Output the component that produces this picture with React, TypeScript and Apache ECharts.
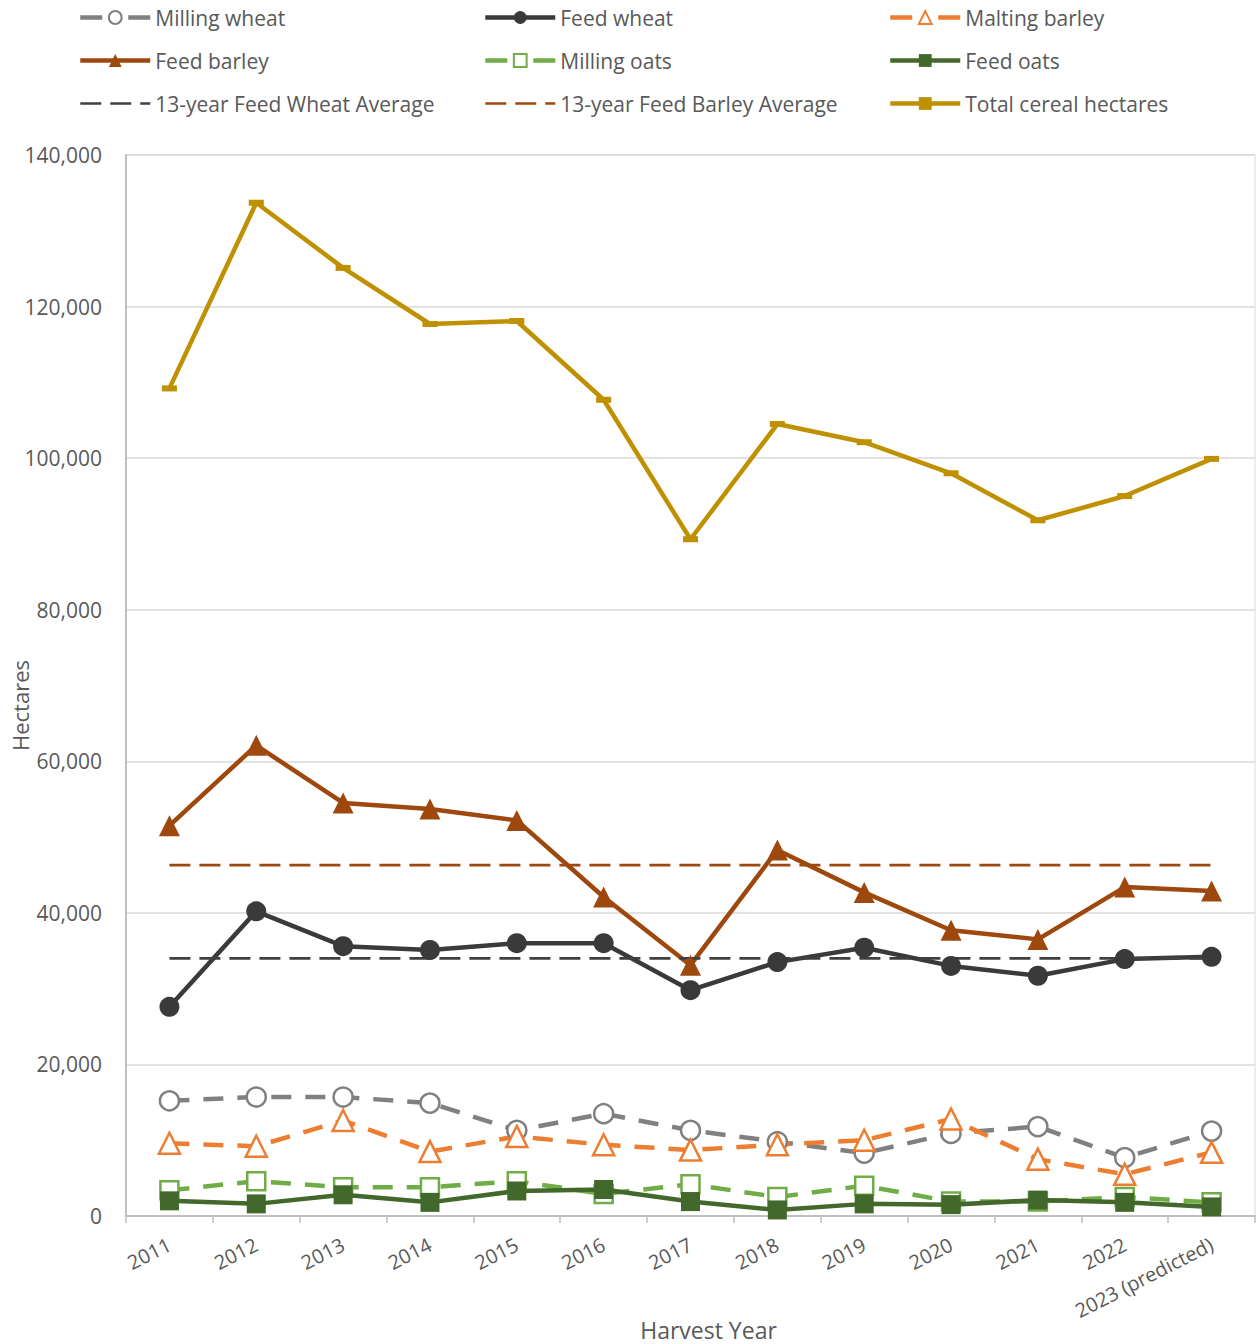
import React, { useEffect, useRef } from "react";
import * as echarts from "echarts";

const categories = ["2011", "2012", "2013", "2014", "2015", "2016", "2017", "2018", "2019", "2020", "2021", "2022", "2023 (predicted)"];
const millingWheat = [15200, 15700, 15700, 14900, 11300, 13500, 11300, 9800, 8300, 10900, 11800, 7700, 11200];
const feedWheat = [27600, 40200, 35600, 35100, 36000, 36000, 29800, 33500, 35400, 33000, 31700, 33900, 34200];
const maltingBarley = [9600, 9200, 12600, 8500, 10500, 9400, 8700, 9400, 10000, 12800, 7500, 5500, 8400];
const feedBarley = [51500, 62100, 54500, 53700, 52200, 42100, 33100, 48300, 42700, 37700, 36500, 43400, 42900];
const millingOats = [3400, 4600, 3800, 3800, 4600, 2900, 4200, 2500, 4000, 1900, 1900, 2500, 1800];
const feedOats = [2000, 1600, 2800, 1800, 3300, 3500, 1900, 800, 1600, 1500, 2100, 1800, 1200];
const feedWheatAverage = 34000;
const feedBarleyAverage = 46300;
const totalCereal = [109200, 133700, 125100, 117700, 118100, 107700, 89300, 104500, 102100, 98000, 91800, 95000, 99900];
const yTicks = { min: 0, max: 140000, interval: 20000 };

const FONT = "'Open Sans', 'Noto Sans', sans-serif";
const TEXT = "#595959";
const DASH = [20, 14];
const AVG_DASH = [21, 9];

export default function App() {
  const ref = useRef<HTMLDivElement>(null);
  useEffect(() => {
    if (!ref.current) return;
    const chart = echarts.init(ref.current, undefined, { renderer: "svg" });
    const line = (name: string, data: number[], color: string, opts: any) => ({
      name,
      type: "line",
      data,
      symbol: opts.symbol,
      symbolSize: opts.symbolSize,
      showSymbol: opts.symbol !== "none",
      lineStyle: { color, width: opts.width ?? 4.5, type: opts.dashed ? (opts.dash ?? DASH) : "solid" },
      itemStyle: opts.hollow
        ? { color: "#ffffff", borderColor: color, borderWidth: 2.5 }
        : { color, borderColor: color, borderWidth: 0 },
      emphasis: { disabled: true },
      z: opts.z ?? 2,
    });
    const legendBase = {
      orient: "vertical",
      top: 7,
      padding: 0,
      itemGap: 22,
      itemWidth: 70,
      itemHeight: 16,
      textStyle: { fontFamily: FONT, fontSize: 21, color: TEXT },
      selectedMode: false,
    };
    const item = (name: string, width = 4.5, hideSymbol = false, dash?: number[]) => ({
      name,
      lineStyle: dash ? { width, type: dash } : { width },
      ...(hideSymbol ? { itemStyle: { opacity: 0 } } : {}),
    });
    const LEGEND_DASH = [22, 26];
    chart.setOption({
      animation: false,
      backgroundColor: "#ffffff",
      textStyle: { fontFamily: FONT },
      legend: [
        { ...legendBase, left: 78, data: [item("Milling wheat", 4.5, false, LEGEND_DASH), item("Feed barley"), item("13-year Feed Wheat Average", 2.7, true)] },
        { ...legendBase, left: 483, data: [item("Feed wheat"), item("Milling oats", 4.5, false, LEGEND_DASH), item("13-year Feed Barley Average", 2.7, true)] },
        { ...legendBase, left: 888, data: [item("Malting barley", 4.5, false, LEGEND_DASH), item("Feed oats"), item("Total cereal hectares")] },
      ],
      grid: { left: 126, right: 3, top: 155, bottom: 128, outerBoundsMode: "none", containLabel: false, show: true, borderColor: "#d9d9d9", borderWidth: 1 },
      xAxis: {
        type: "category",
        data: categories,
        boundaryGap: true,
        name: "Harvest Year",
        nameLocation: "middle",
        nameGap: 102,
        nameMoveOverlap: false,
        nameTextStyle: { fontFamily: FONT, fontSize: 23, color: TEXT, padding: [0, 0, 0, 36] },
        axisLine: { lineStyle: { color: "#bfbfbf", width: 2 } },
        axisTick: { show: true, alignWithLabel: false, length: 7, lineStyle: { color: "#bfbfbf", width: 1.5 } },
        axisLabel: { rotate: 27, fontFamily: FONT, fontSize: 20, color: TEXT, margin: 27 },
      },
      yAxis: {
        type: "value",
        min: yTicks.min,
        max: yTicks.max,
        interval: yTicks.interval,
        name: "Hectares",
        nameLocation: "middle",
        nameGap: 95,
        nameMoveOverlap: false,
        nameTextStyle: { fontFamily: FONT, fontSize: 22, color: TEXT, padding: [0, 40, 0, 0] },
        axisLine: { show: true, lineStyle: { color: "#bfbfbf", width: 2 } },
        axisTick: { show: false },
        splitLine: { lineStyle: { color: "#d9d9d9", width: 1.5 } },
        axisLabel: {
          fontFamily: FONT,
          fontSize: 21,
          color: TEXT,
          margin: 24,
          formatter: (v: number) => v.toLocaleString("en-US"),
        },
      },
      series: [
        line("Milling wheat", millingWheat, "#808080", { symbol: "circle", symbolSize: 19, hollow: true, dashed: true }),
        line("Feed wheat", feedWheat, "#3a3a3a", { symbol: "circle", symbolSize: 20 }),
        line("Malting barley", maltingBarley, "#ED7D31", { symbol: "triangle", symbolSize: 21, hollow: true, dashed: true }),
        line("Feed barley", feedBarley, "#9E480E", { symbol: "triangle", symbolSize: 21 }),
        line("Milling oats", millingOats, "#70AD47", { symbol: "rect", symbolSize: 18, hollow: true, dashed: true }),
        line("Feed oats", feedOats, "#43682B", { symbol: "rect", symbolSize: 19, z: 3 }),
        line("13-year Feed Wheat Average", categories.map(() => feedWheatAverage), "#404040", { symbol: "none", width: 2.7, dashed: true, dash: AVG_DASH }),
        line("13-year Feed Barley Average", categories.map(() => feedBarleyAverage), "#9E480E", { symbol: "none", width: 2.7, dashed: true, dash: AVG_DASH }),
        line("Total cereal hectares", totalCereal, "#BF9000", { symbol: "rect", symbolSize: [15, 6] }),
      ],
    });
    return () => chart.dispose();
  }, []);
  return <div ref={ref} style={{ position: "absolute", left: 0, top: 0, width: 1258, height: 1344 }} />;
}
